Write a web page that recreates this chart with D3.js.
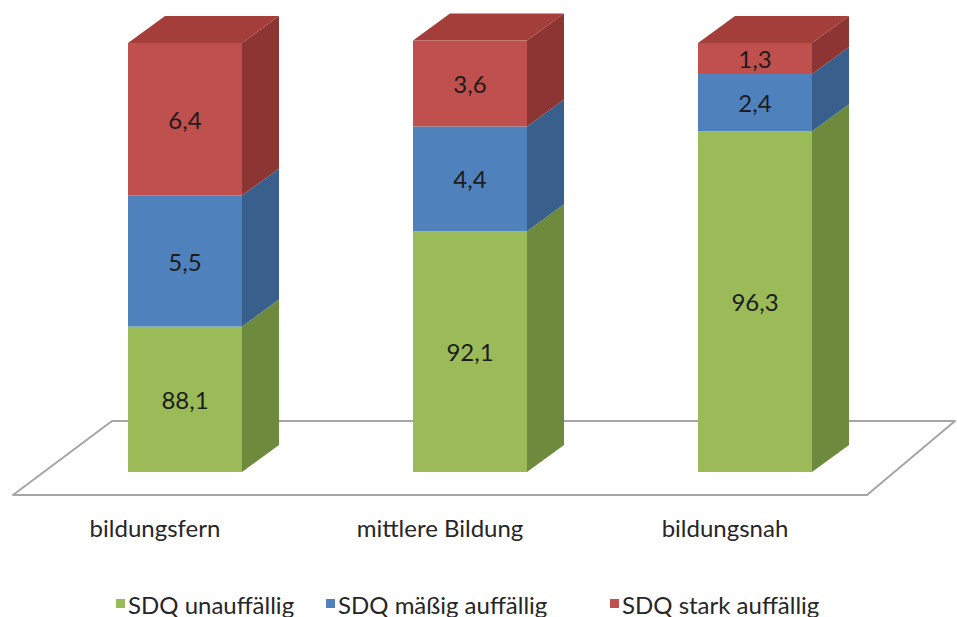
<!DOCTYPE html>
<html>
<head>
<meta charset="utf-8">
<script src="https://cdn.jsdelivr.net/npm/d3@7"></script>
<style>
  html, body { margin: 0; padding: 0; background: #ffffff; }
  svg { display: block; font-family: Lato, "Open Sans", sans-serif; }
</style>
</head>
<body>
<svg id="chart" width="957" height="617"></svg>
<script>
// SDQ results by educational background (percent, stacked to 100)
const categories = ["bildungsfern", "mittlere Bildung", "bildungsnah"];
const seriesNames = ["SDQ unauffällig", "SDQ mäßig auffällig", "SDQ stark auffällig"];
const unauffaellig = [88.1, 92.1, 96.3];
const maessig = [5.5, 4.4, 2.4];
const stark = [6.4, 3.6, 1.3];
const valueDomain = [82, 100];

const colors = {
  front: ["#9bbb59", "#4f81bd", "#c0504d"],
  side:  ["#6e8a3c", "#395f8d", "#8c3532"],
  top:   ["#84a34a", "#43709f", "#a33e3b"]
};

const svg = d3.select("#chart");
const W = 957, H = 617;

// 3D geometry
const depthX = 37, depthY = -27, barW = 114;

const x = d3.scalePoint().domain(categories).range([185, 755]);
const y = d3.scaleLinear().domain(valueDomain).range([472, 43]);

// Stack the three series
const rows = categories.map((c, i) => ({
  cat: c, s0: unauffaellig[i], s1: maessig[i], s2: stark[i]
}));
const stack = d3.stack().keys(["s0", "s1", "s2"]);
const stacked = stack(rows);

// Floor (drawn first, behind the bars)
const base = y(valueDomain[0]);
const floorFront = base + 23, floorBack = base - 51;
const floorPts = [
  [112, floorBack], [955, floorBack],
  [867, floorFront], [13, floorFront]
];
svg.append("polygon")
  .attr("points", floorPts.map(p => p.join(",")).join(" "))
  .attr("fill", "#ffffff")
  .attr("stroke", "#a5a5a5")
  .attr("stroke-width", 2)
  .attr("stroke-linejoin", "round");

// Bars
const bars = svg.append("g");
stacked.forEach((layer, si) => {
  layer.forEach((d, ci) => {
    const lo = Math.max(d[0], valueDomain[0]);
    const hi = d[1];
    const cx = x(categories[ci]);
    const x0 = cx - barW / 2, x1 = cx + barW / 2;
    const yb = y(lo), yt = y(hi);
    const g = bars.append("g");
    // front face
    g.append("rect")
      .attr("x", x0).attr("y", yt)
      .attr("width", barW).attr("height", yb - yt)
      .attr("fill", colors.front[si]);
    // right side face
    g.append("polygon")
      .attr("points", [
        [x1, yt], [x1 + depthX, yt + depthY],
        [x1 + depthX, yb + depthY], [x1, yb]
      ].map(p => p.join(",")).join(" "))
      .attr("fill", colors.side[si]);
    // top face for the uppermost segment
    if (si === stacked.length - 1) {
      g.append("polygon")
        .attr("points", [
          [x0, yt], [x0 + depthX, yt + depthY],
          [x1 + depthX, yt + depthY], [x1, yt]
        ].map(p => p.join(",")).join(" "))
        .attr("fill", colors.top[si]);
    }
  });
});

// Value labels
const labelVals = [unauffaellig, maessig, stark];
stacked.forEach((layer, si) => {
  layer.forEach((d, ci) => {
    const lo = Math.max(d[0], valueDomain[0]);
    svg.append("text")
      .attr("x", x(categories[ci]))
      .attr("y", (y(lo) + y(d[1])) / 2)
      .attr("text-anchor", "middle")
      .attr("dominant-baseline", "central")
      .attr("font-size", 24)
      .attr("fill", "#1c1c1c")
      .text(d3.format(".1f")(labelVals[si][ci]).replace(".", ","));
  });
});

// Category labels along the floor front
svg.append("g").selectAll("text")
  .data(categories)
  .join("text")
  .attr("x", d => x(d) - 30)
  .attr("y", 527)
  .attr("text-anchor", "middle")
  .attr("dominant-baseline", "central")
  .attr("font-size", 24)
  .attr("fill", "#262626")
  .text(d => d);

// Legend
const legendX = [116, 326, 610];
const legend = svg.append("g");
seriesNames.forEach((name, i) => {
  legend.append("rect")
    .attr("x", legendX[i]).attr("y", 599)
    .attr("width", 9).attr("height", 9)
    .attr("fill", colors.front[i]);
  legend.append("text")
    .attr("x", legendX[i] + 12)
    .attr("y", 604)
    .attr("dominant-baseline", "central")
    .attr("font-size", 24)
    .attr("fill", "#262626")
    .text(name);
});
</script>
</body>
</html>
